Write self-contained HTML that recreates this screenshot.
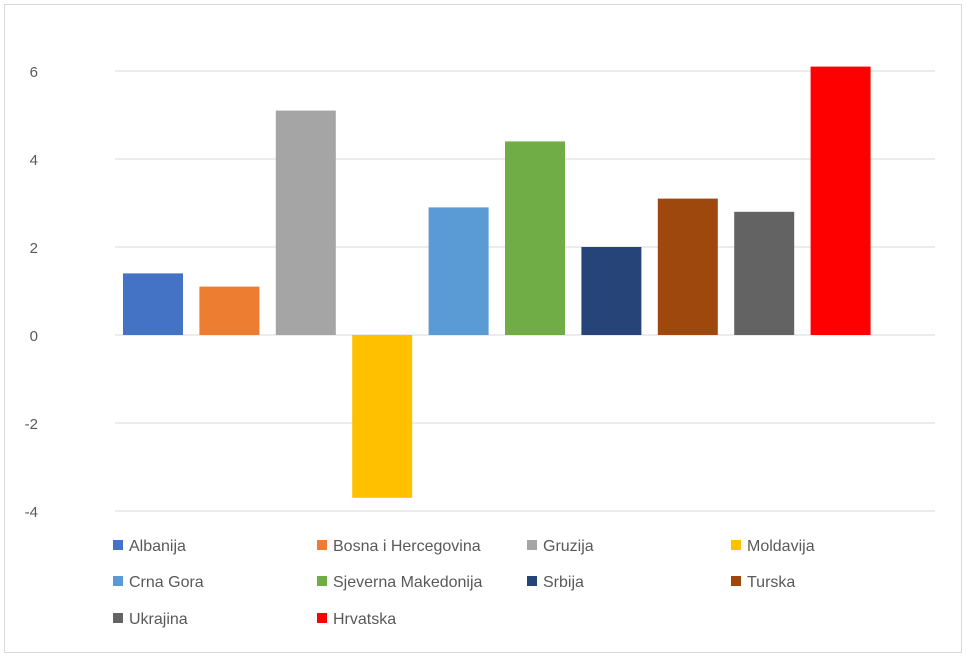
<!DOCTYPE html>
<html><head><meta charset="utf-8"><style>
body{margin:0;background:#fff;font-family:"Liberation Sans",Calibri,sans-serif}
svg text{font-family:"Liberation Sans",sans-serif}
</style></head><body>
<svg id="chart" width="967" height="658" xmlns="http://www.w3.org/2000/svg">
<rect x="4.5" y="4.5" width="957" height="648" fill="#fff" stroke="#d9d9d9"/>
<g id="grid"></g><g id="bars"></g><g id="legend"></g>
</svg>
<script>
const categories=["Albanija","Bosna i Hercegovina","Gruzija","Moldavija","Crna Gora","Sjeverna Makedonija","Srbija","Turska","Ukrajina","Hrvatska"];
const values=[1.4,1.1,5.1,-3.7,2.9,4.4,2.0,3.1,2.8,6.1];
const colors=["#4472c4","#ed7d31","#a5a5a5","#ffc000","#5b9bd5","#70ad47","#264478","#9e480e","#636363","#ff0000"];
const ticks=[6,4,2,0,-2,-4];
const NS="http://www.w3.org/2000/svg";
const y=v=>335-v*44;
const x=i=>153+i*76.4;
function mk(t,a,p){const e=document.createElementNS(NS,t);for(const k in a)e.setAttribute(k,a[k]);p.appendChild(e);return e;}
const g=document.getElementById('grid');
ticks.forEach(t=>{
 const l=mk('line',{x1:115,x2:935,y1:y(t),y2:y(t),stroke:'#d9d9d9','stroke-width':1},g);
 
 
 const tx=mk('text',{x:38,y:y(t)+6,'text-anchor':'end','font-size':15,fill:'#595959'},g);
 tx.textContent=t;
 
 
});
const b=document.getElementById('bars');
values.forEach((v,i)=>{
 const r=mk('rect',{x:x(i)-30,width:60,y:Math.min(y(v),y(0)),height:Math.abs(y(v)-y(0)),fill:colors[i]},b);
 
 
});
const lg=document.getElementById('legend');
const cols=[113,317,527,731],rows=[545,581,618];
categories.forEach((c,i)=>{
 const cx=cols[i%4],cy=rows[Math.floor(i/4)];
 const s=mk('rect',{x:cx,y:cy-5,width:10,height:10,fill:colors[i]},lg);
 
 
 const t=mk('text',{x:cx+16,y:cy+6,'font-size':16,fill:'#595959'},lg);
 t.textContent=c;
 
 
});
</script>
</body></html>
